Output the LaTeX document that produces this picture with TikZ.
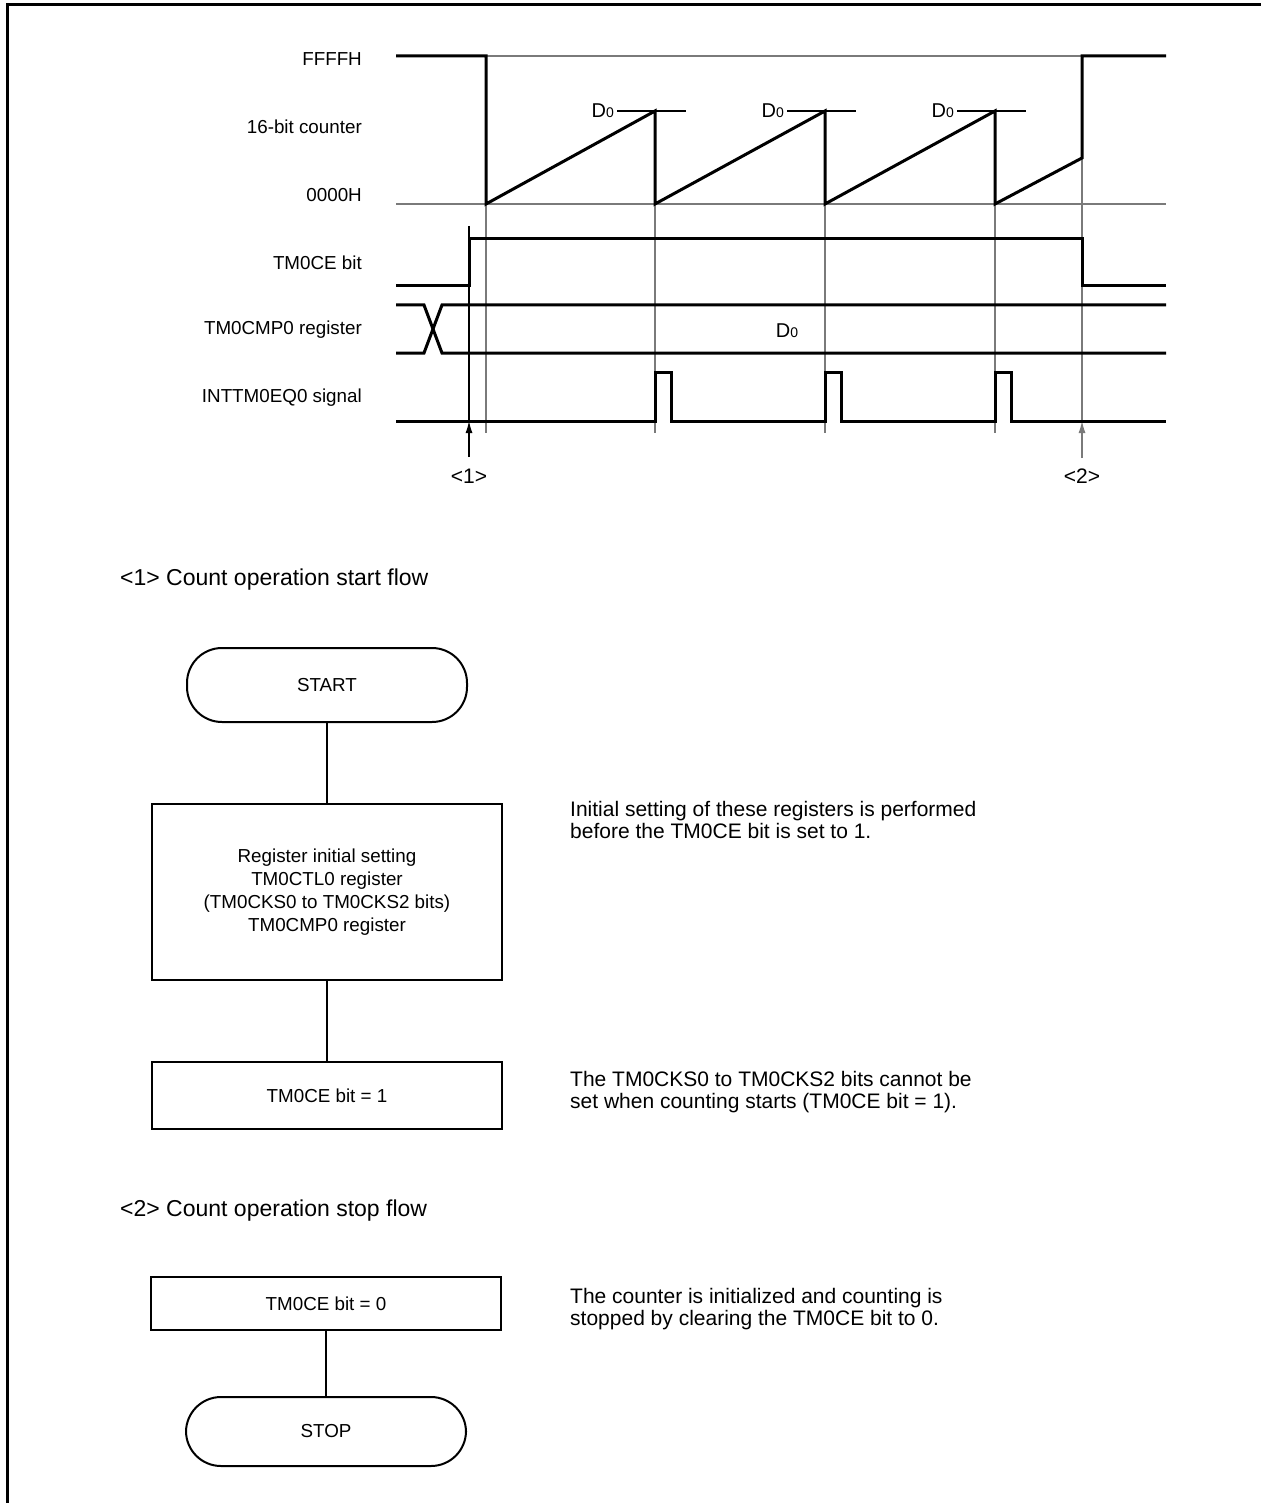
\documentclass[tikz,border=0pt]{standalone}
\usepackage{fontspec}
\setmainfont{Liberation Sans}
\usepackage{xcolor}
\usepackage{tikz}
\usetikzlibrary{positioning, arrows.meta}
\definecolor{guidegray}{HTML}{7A7A7A}
\newcommand{\Dnull}{{\fontsize{20}{20}\selectfont D}{\fontsize{14}{14}\selectfont 0}}

\begin{document}
\begin{tikzpicture}[x=1pt, y=-1pt,
  every node/.style={font=\fontsize{18.8}{22}\selectfont, inner sep=0pt},
  frame/.style={line width=3pt, line cap=rect},
  sig/.style={line width=3pt, line join=miter},
  guide/.style={line width=1.1pt, guidegray},
  tick/.style={line width=1.1pt, black},
  marker/.style={line width=1.1pt, -{Latex[length=12pt, width=7pt]}},
  lbl/.style={anchor=east},
  pointlbl/.style={font=\fontsize{21}{22}\selectfont},
  heading/.style={anchor=west, font=\fontsize{23}{26}\selectfont},
  note/.style={anchor=west, align=left, font=\fontsize{21}{22}\selectfont},
  flowbox/.style={draw, line width=2pt, minimum width=350pt, align=center},
  termbox/.style={draw, line width=2pt, minimum width=280pt, rounded corners=35pt},
  flowline/.style={line width=1.1pt}]
  \useasboundingbox (0,0) rectangle (1260,1503);
  \draw[frame] (7,1503) -- (7,5) -- (1260,5);

  \node[lbl] (ffffh) at (362,59) {FFFFH};
  \node[lbl] (counter) at (362,127) {16-bit counter};
  \node[lbl] (zeroh) at (362,195) {0000H};
  \node[lbl] (cebit) at (362,263) {TM0CE bit};
  \node[lbl] (cmpreg) at (362,330) {TM0CMP0 register};
  \node[lbl] (intsig) at (362,398) {INTTM0EQ0 signal};

  \draw[guide] (486,56) -- (1082,56);
  \draw[guide] (396,204) -- (1166,204);
  \foreach \x in {486,655,825,995}
    \draw[guide] (\x,204) -- (\x,433);
  \coordinate (tipone) at (469,421);
  \coordinate (tiptwo) at (1082,421);
  \draw[tick] (469,226) -- (tipone);
  \draw[marker] (469,457) -- (tipone);
  \draw[guide] (1082,56) -- (tiptwo);
  \draw[marker, guidegray] (1082,458) -- (tiptwo);
  \node[pointlbl] (mone) at (469,476) {<1>};
  \node[pointlbl] (mtwo) at (1082,476) {<2>};

  \foreach \x in {655,825,995} {
    \draw[tick] (\x-38,111) -- (\x+31,111);
    \node[anchor=east] at (\x-41,111) {\Dnull};
  }

  \draw[sig] (396,56) -- (486,56) -- (486,204) -- (655,111) -- (655,204)
    -- (825,111) -- (825,204) -- (995,111) -- (995,204) -- (1082,158)
    -- (1082,56) -- (1166,56);
  \draw[sig] (396,286) -- (469,286) -- (469,239) -- (1082,239) -- (1082,286)
    -- (1166,286);
  \draw[sig] (396,305) -- (424,305) -- (442,353) -- (1166,353);
  \draw[sig] (396,353) -- (424,353) -- (442,305) -- (1166,305);
  \node (cmpval) at (787,331) {\Dnull};
  \draw[sig] (396,421) -- (655,421) -- (655,372) -- (671,372) -- (671,421)
    -- (825,421) -- (825,372) -- (841,372) -- (841,421)
    -- (995,421) -- (995,372) -- (1011,372) -- (1011,421) -- (1166,421);

  \node[heading] (startflow) at (120,580) {<1> Count operation start flow};
  \node[termbox, minimum height=74pt] (start) at (327,685) {START};
  \node[flowbox, minimum height=176pt, below=80pt of start] (init)
    {Register initial setting\\[1pt] TM0CTL0 register\\[1pt]
     (TM0CKS0 to TM0CKS2 bits)\\[1pt] TM0CMP0 register};
  \node[flowbox, minimum height=67pt, below=80pt of init] (ceone) {TM0CE bit = 1};
  \draw[flowline] (start) -- (init);
  \draw[flowline] (init) -- (ceone);
  \node[note] (initnote) at (570,820)
    {Initial setting of these registers is performed\\before the TM0CE bit is set to 1.};
  \node[note] (cenote) at (570,1092)
    {The TM0CKS0 to TM0CKS2 bits cannot be\\set when counting starts (TM0CE bit = 1).};

  \node[heading] (stopflow) at (120,1211) {<2> Count operation stop flow};
  \node[flowbox, minimum height=53pt] (cezero) at (326,1303.5) {TM0CE bit = 0};
  \node[termbox, minimum height=69pt, below=65pt of cezero] (stop) {STOP};
  \draw[flowline] (cezero) -- (stop);
  \node[note] (stopnote) at (570,1309.5)
    {The counter is initialized and counting is\\stopped by clearing the TM0CE bit to 0.};
\end{tikzpicture}
\end{document}
